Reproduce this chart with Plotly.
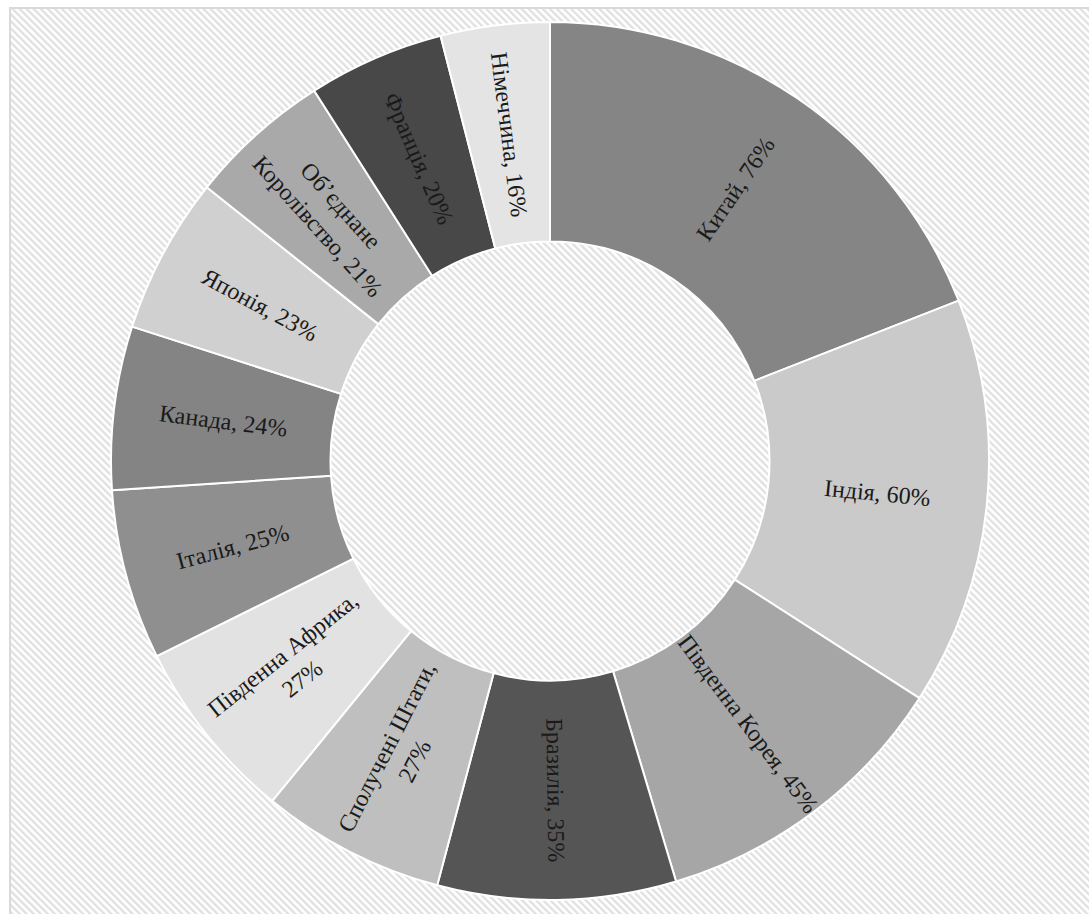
import base64
import math
import plotly.graph_objects as go

countries = ["Китай", "Індія", "Південна Корея", "Бразилія", "Сполучені Штати",
             "Південна Африка", "Італія", "Канада", "Японія",
             "Об’єднане Королівство", "Франція", "Німеччина"]
text_labels = ["Китай", "Індія", "Південна Корея", "Бразилія", "Сполучені Штати,<br>",
               "Південна Африка,<br>", "Італія", "Канада", "Японія",
               "Об’єднане<br>Королівство", "Франція", "Німеччина"]
values = [76, 60, 45, 35, 27, 27, 25, 24, 23, 21, 20, 16]
colors = ["#858585", "#cacaca", "#a6a6a6", "#555555", "#bfbfbf", "#e2e2e2",
          "#8f8f8f", "#848484", "#d0d0d0", "#a9a9a9", "#484848", "#e4e4e4"]

texts = []
for lab, v in zip(text_labels, values):
    if lab.endswith("<br>"):
        texts.append(f"{lab}{v}%")
    else:
        texts.append(f"{lab}, {v}%")

W, H = 1089, 914
ml, mr, mt, mb = 111, 100, 22, 14
pw, ph = W - ml - mr, H - mt - mb
HOLE = 0.5

# striped background (decorative)
bx0, by0 = 9, 7
bw, bh = W - bx0 + 4, H - by0 + 4
svg = f'''<svg xmlns="http://www.w3.org/2000/svg" width="{bw}" height="{bh}" viewBox="0 0 {bw} {bh}" preserveAspectRatio="none">
<defs><pattern id="p" width="5" height="5" patternUnits="userSpaceOnUse" patternTransform="rotate(-45)">
<rect width="5" height="5" fill="#ffffff"/><rect width="2.3" height="5" fill="#e0e0e0"/></pattern></defs>
<rect width="{bw}" height="{bh}" fill="url(#p)"/>
<rect x="1" y="1" width="{bw-2}" height="{bh-2}" fill="none" stroke="#d9d9d9" stroke-width="2"/>
</svg>'''
src = "data:image/svg+xml;base64," + base64.b64encode(svg.encode("utf-8")).decode()

fig = go.Figure(go.Pie(
    labels=countries,
    values=values,
    textinfo="none",
    hole=HOLE,
    sort=False,
    direction="clockwise",
    rotation=0,
    marker=dict(colors=colors, line=dict(color="#ffffff", width=2)),
    showlegend=False,
))

# radial labels placed at the middle of each slice (derived from the values)
total = sum(values)
annotations = []
cum = 0
r_mid = (0.5 + 0.5 * HOLE) / 2
for t, v in zip(texts, values):
    mid = (cum + v / 2) / total * 360.0
    cum += v
    th = math.radians(mid)
    x = 0.5 + r_mid * math.sin(th)
    y = 0.5 + r_mid * math.cos(th)
    ang = mid - 90.0
    if ang > 90:
        ang -= 180.0
    annotations.append(dict(
        x=x, y=y, xref="paper", yref="paper", text=t, showarrow=False,
        textangle=ang, xanchor="center", yanchor="middle",
        font=dict(family="Liberation Serif, Times New Roman, serif", size=24, color="#1a1a1a"),
    ))

fig.update_layout(
    width=W, height=H,
    margin=dict(l=ml, r=mr, t=mt, b=mb),
    paper_bgcolor="#ffffff",
    plot_bgcolor="rgba(0,0,0,0)",
    annotations=annotations,
    images=[dict(
        source=src, xref="paper", yref="paper",
        x=(bx0 - ml) / pw, y=(H - mb - by0) / ph,
        sizex=bw / pw, sizey=bh / ph,
        xanchor="left", yanchor="top", sizing="stretch", layer="below",
    )],
)

fig.write_html("out.html")
